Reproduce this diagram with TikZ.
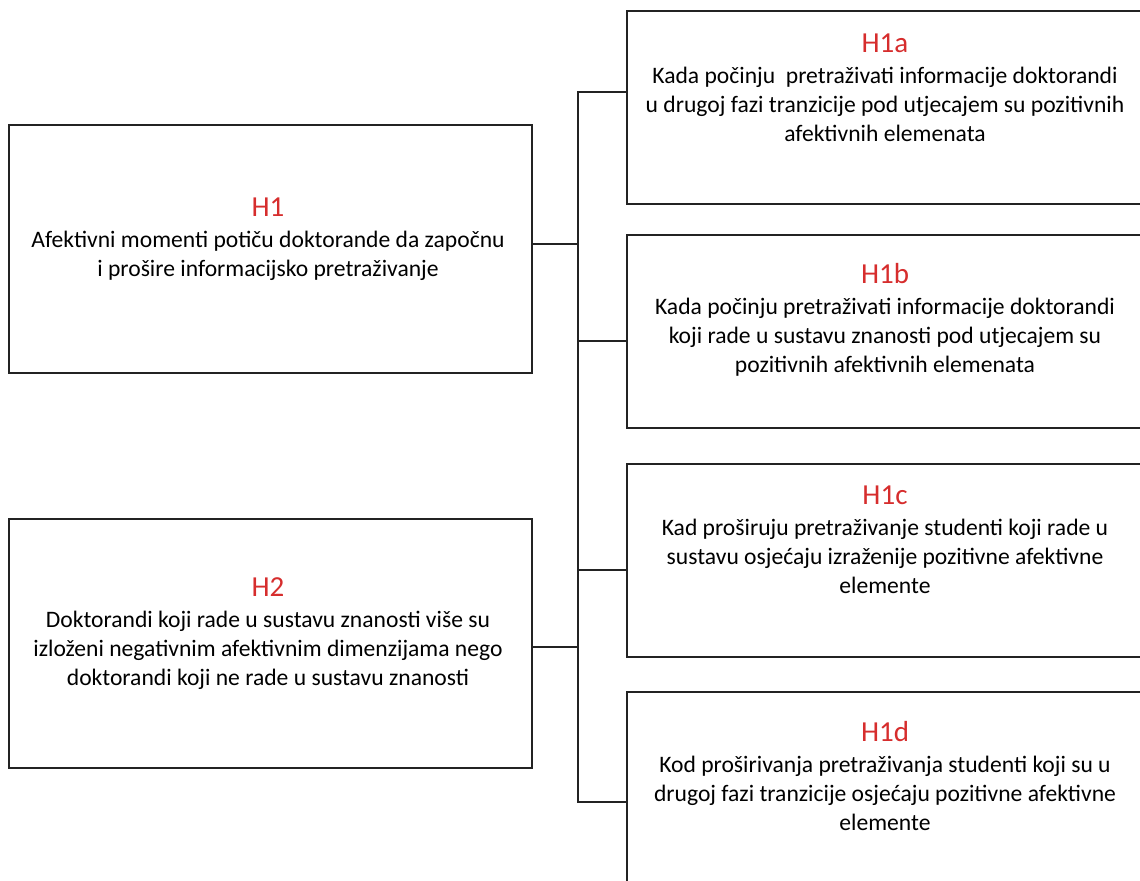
\documentclass[tikz,border=0pt]{standalone}
\usepackage{fontspec}
\setmainfont{Carlito}
\usetikzlibrary{positioning}
\definecolor{hred}{RGB}{214,45,45}
\definecolor{lgray}{RGB}{35,35,35}
\newcommand{\hhead}[1]{{\fontsize{14.5}{17}\selectfont\color{hred}#1}}
\begin{document}
\begin{tikzpicture}[x=0.5pt, y=-0.5pt,
  hbox/.style={shape=rectangle, draw=lgray, line width=1pt, inner sep=0pt, minimum width=261.5pt},
  rbox/.style={shape=rectangle, draw=lgray, line width=1pt, inner sep=0pt, minimum width=258pt, minimum height=96.5pt},
  htext/.style={align=center, font=\fontsize{11.8}{14.5}\selectfont, text=black, inner sep=0pt},
  link/.style={-, line width=1pt, draw=lgray, line join=miter}]
\clip (0,0) rectangle (1140,881);
\node[hbox, minimum height=124pt] (H1) at (270.5,249) {};
\node[hbox, minimum height=124.5pt] (H2) at (270.5,643.5) {};
\node[rbox] (H1a) at (885,107.5) {};
\node[rbox] (H1b) at (885,331.5) {};
\node[rbox] (H1c) at (885,560.5) {};
\node[rbox, minimum height=99pt] (H1d) at (885,791) {};
\node[htext] (tH1) at (268,239) {\hhead{H1}\\[1pt] Afektivni momenti potiču doktorande da započnu\\ i prošire informacijsko pretraživanje};
\node[htext] (tH2) at (268,634) {\hhead{H2}\\[1pt] Doktorandi koji rade u sustavu znanosti više su\\ izloženi negativnim afektivnim dimenzijama nego\\ doktorandi koji ne rade u sustavu znanosti};
\node[htext] (tH1a) at (885,88) {\hhead{H1a}\\[1pt] Kada počinju\ \ pretraživati informacije doktorandi\\ u drugoj fazi tranzicije pod utjecajem su pozitivnih\\ afektivnih elemenata};
\node[htext] (tH1b) at (885,320) {\hhead{H1b}\\[1pt] Kada počinju pretraživati informacije doktorandi\\ koji rade u sustavu znanosti pod utjecajem su\\ pozitivnih afektivnih elemenata};
\node[htext] (tH1c) at (885,540) {\hhead{H1c}\\[1pt] Kad proširuju pretraživanje studenti koji rade u\\ sustavu osjećaju izraženije pozitivne afektivne\\ elemente};
\node[htext] (tH1d) at (885,776) {\hhead{H1d}\\[1pt] Kod proširivanja pretraživanja studenti koji su u\\ drugoj fazi tranzicije osjećaju pozitivne afektivne\\ elemente};
\coordinate (j1) at (578,244);
\coordinate (j2) at (578,647);
\coordinate (ja) at (578,92);
\coordinate (jb) at (578,341);
\coordinate (jc) at (578,570);
\coordinate (jd) at (578,802);
\path [link] (H1.east |- j1) edge (j1);
\path [link] (H2.east |- j2) edge (j2);
\draw [link] (ja -| H1a.west) -- (ja) -- (jd) -- (jd -| H1d.west);
\path [link] (jb) edge (jb -| H1b.west);
\path [link] (jc) edge (jc -| H1c.west);
\end{tikzpicture}
\end{document}
